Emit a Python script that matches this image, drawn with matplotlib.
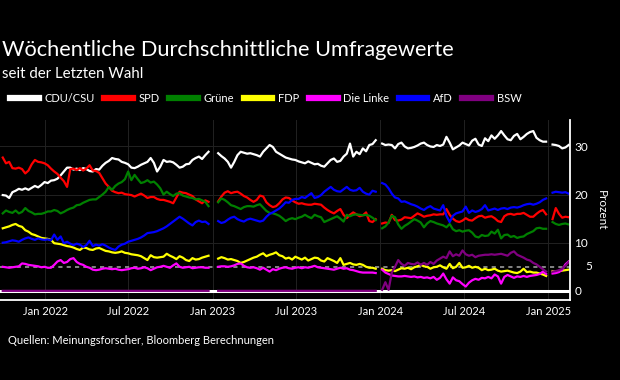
import numpy as np
import pandas as pd
import matplotlib
matplotlib.use("Agg")
import matplotlib.pyplot as plt
import matplotlib.dates as mdates
import matplotlib.transforms as mtransforms
from matplotlib.lines import Line2D

plt.rcParams['font.family'] = ['Lato', 'DejaVu Sans']

# weekly poll averages (Fridays), with holiday gaps between the segments
dates = pd.date_range('2021-10-01', '2025-02-14', freq='7D')
gaps = [2, 1, 1]

cdu_1 = [19.9, 19.8, 19.3, 20.5, 20.8, 21.2, 21.0, 21.3, 21.0, 21.4,
         21.8, 21.5, 22.0, 22.6, 22.4, 22.9, 23.0, 23.3, 24.0, 24.8,
         25.6, 25.6, 25.2, 25.4, 25.1, 25.5, 25.3, 24.9, 24.8, 25.3,
         25.2, 26.0, 26.6, 27.0, 27.6, 27.4, 27.3, 26.8, 26.6, 26.3,
         25.6, 25.5, 25.8, 26.2, 26.5, 26.8, 27.6, 26.6, 24.8, 25.8,
         27.2, 26.8, 26.9, 26.7, 26.2, 25.6, 25.8, 26.3, 26.4, 27.2,
         27.6, 27.9, 27.4, 28.2, 28.9]
cdu_2 = [28.6, 28.0, 27.5, 26.8, 25.6, 26.8, 28.2, 28.9, 28.7, 28.5,
         28.6, 28.4, 28.2, 27.9, 28.9, 29.6, 30.3, 29.9, 28.9, 28.5,
         28.1, 27.7, 27.5, 27.3, 27.2, 26.9, 26.7, 26.5, 26.9, 26.6,
         26.3, 26.4, 26.0, 25.8, 26.5, 27.2, 27.5, 26.8, 27.0, 27.9,
         28.5, 30.6, 27.9, 28.9, 28.4, 29.6, 29.0, 30.3, 30.5, 31.3]
cdu_3 = [30.6, 30.3, 30.4, 30.3, 29.6, 30.5, 30.8, 30.0, 29.6, 29.7,
         29.9, 30.2, 30.6, 30.8, 30.3, 30.0, 29.9, 30.3, 30.1, 30.4,
         32.0, 30.8, 29.4, 29.8, 30.2, 30.8, 30.5, 30.2, 31.2, 31.6,
         30.4, 30.1, 31.7, 31.1, 32.3, 31.6, 32.3, 33.2, 32.3, 31.5,
         31.3, 32.2, 32.6, 31.5, 32.0, 32.6, 33.0, 33.2, 31.8, 31.3,
         31.0, 31.0]
cdu_4 = [30.4, 30.3, 30.1, 29.6, 29.8, 30.3]

spd_1 = [27.7, 26.5, 26.8, 25.5, 25.4, 25.6, 25.3, 24.4, 25.0, 26.3,
         27.2, 26.8, 26.7, 26.5, 26.1, 25.4, 24.8, 24.3, 23.5, 22.8,
         21.6, 25.3, 25.4, 25.1, 25.5, 25.0, 25.4, 26.1, 25.0, 24.9,
         24.5, 23.4, 22.3, 21.6, 20.8, 20.5, 20.3, 20.4, 20.1, 20.0,
         19.9, 19.6, 19.9, 20.2, 19.8, 19.3, 19.5, 19.5, 19.1, 18.9,
         18.9, 18.7, 18.5, 18.2, 19.4, 20.6, 20.4, 20.3, 20.0, 19.7,
         19.0, 18.6, 18.2, 18.8, 18.5]
spd_2 = [18.6, 19.6, 20.4, 20.7, 20.3, 20.5, 20.6, 20.2, 19.7, 19.4,
         18.9, 18.5, 18.9, 19.8, 19.6, 18.4, 17.8, 17.4, 17.6, 18.2,
         19.0, 19.4, 19.3, 18.8, 18.4, 18.1, 18.2, 18.0, 17.9, 17.9,
         18.1, 18.0, 17.9, 17.3, 16.8, 16.4, 16.1, 16.6, 17.0, 15.8,
         15.1, 15.8, 16.3, 15.9, 15.5, 15.7, 16.3, 14.5, 14.3, 14.9]
spd_3 = [14.0, 14.2, 14.1, 15.8, 14.7, 14.6, 14.8, 15.3, 15.2, 15.1,
         15.6, 16.1, 15.8, 15.4, 15.6, 15.7, 15.9, 15.8, 15.9, 15.9,
         17.0, 15.8, 15.0, 14.5, 14.3, 14.6, 15.1, 14.7, 14.6, 15.1,
         15.5, 15.6, 15.2, 15.4, 15.5, 15.1, 14.5, 14.3, 15.5, 15.9,
         16.0, 15.8, 16.0, 16.0, 16.2, 15.8, 15.4, 15.4, 16.0, 16.5,
         16.8, 15.9]
spd_4 = [14.9, 17.2, 16.0, 15.2, 15.4, 15.3]

gruene_1 = [16.1, 16.7, 16.4, 16.2, 16.7, 16.1, 16.4, 17.2, 16.6, 16.3,
            15.9, 16.0, 16.0, 16.2, 16.5, 16.5, 16.8, 16.6, 16.1, 16.4,
            16.8, 17.1, 17.3, 17.8, 17.9, 18.3, 18.6, 18.9, 19.0, 19.0,
            19.5, 20.0, 20.6, 21.6, 21.0, 21.8, 22.3, 22.6, 23.2, 24.8,
            23.0, 24.1, 23.2, 22.4, 22.6, 23.0, 22.5, 22.7, 22.1, 21.3,
            20.0, 20.6, 20.1, 19.7, 20.2, 20.3, 19.8, 19.6, 19.4, 19.3,
            19.0, 19.1, 18.8, 18.5, 17.6]
gruene_2 = [18.4, 19.2, 18.9, 18.4, 17.8, 17.6, 17.3, 17.0, 17.4, 17.6,
            17.6, 17.5, 17.8, 18.0, 17.3, 16.6, 16.2, 16.1, 15.9, 15.6,
            15.1, 14.5, 14.9, 15.1, 14.9, 15.2, 15.4, 15.8, 15.4, 15.1,
            15.8, 15.5, 15.3, 14.3, 14.6, 14.9, 15.2, 15.5, 15.0, 14.4,
            15.8, 15.5, 15.8, 15.9, 15.8, 15.7, 15.8, 15.6, 15.2, 14.7]
gruene_3 = [13.0, 13.4, 14.2, 15.6, 15.3, 13.8, 12.9, 13.5, 13.9, 14.4,
            14.9, 14.6, 14.2, 13.2, 14.0, 14.5, 14.3, 14.0, 13.8, 13.6,
            13.2, 13.9, 12.8, 12.4, 12.6, 12.3, 12.5, 12.6, 12.1, 11.3,
            11.1, 11.6, 11.4, 11.5, 12.3, 11.9, 12.7, 10.9, 11.6, 11.7,
            11.2, 11.4, 11.0, 11.2, 11.3, 11.8, 12.1, 12.4, 13.0, 13.1,
            12.9, 12.9]
gruene_4 = [14.3, 13.9, 13.7, 13.9, 14.0, 13.8]

fdp_1 = [13.0, 13.2, 13.4, 13.7, 13.9, 13.5, 13.3, 12.6, 12.3, 11.8,
         11.6, 11.3, 11.0, 10.9, 10.8, 10.6, 9.9, 9.8, 9.7, 9.5,
         9.3, 9.2, 9.0, 8.7, 8.5, 9.0, 8.9, 8.6, 8.5, 8.8,
         8.9, 8.6, 8.3, 8.2, 8.0, 7.9, 8.0, 8.2, 7.9, 7.8,
         7.6, 7.5, 7.4, 7.2, 6.8, 6.4, 7.4, 7.0, 6.9, 7.0,
         7.1, 7.7, 7.3, 7.0, 6.6, 7.2, 6.9, 6.4, 6.2, 6.8,
         6.5, 6.6, 6.9, 7.1, 7.3]
fdp_2 = [6.7, 7.0, 6.8, 6.5, 6.6, 6.4, 6.2, 5.8, 6.0, 6.3,
         6.6, 6.9, 7.1, 7.5, 7.8, 7.2, 7.5, 7.7, 8.0, 7.4,
         7.2, 6.7, 6.9, 6.5, 7.1, 6.8, 6.5, 6.9, 6.3, 6.6,
         6.9, 6.8, 6.3, 6.1, 6.8, 6.5, 6.2, 5.8, 6.8, 5.4,
         5.6, 5.8, 5.5, 5.4, 5.6, 5.4, 5.0, 4.8, 4.8, 4.6]
fdp_3 = [4.6, 4.3, 4.2, 4.3, 4.1, 4.4, 4.7, 4.6, 4.8, 4.5,
         4.9, 5.1, 5.4, 5.1, 5.0, 4.6, 4.9, 5.0, 5.3, 4.9,
         4.6, 5.6, 4.7, 5.0, 5.8, 4.8, 4.9, 5.2, 4.8, 5.0,
         4.8, 4.3, 4.6, 4.3, 4.4, 4.6, 4.2, 4.0, 4.1, 4.2,
         4.0, 3.8, 3.7, 4.0, 4.6, 3.9, 4.0, 3.8, 3.8, 3.6,
         3.4, 3.1]
fdp_4 = [4.1, 4.0, 4.1, 4.2, 4.3, 4.4]

linke_1 = [5.0, 4.9, 4.8, 4.9, 5.0, 5.1, 5.7, 5.6, 5.4, 5.3,
           5.2, 5.1, 4.9, 5.0, 4.8, 4.8, 5.4, 6.1, 6.4, 5.8,
           6.0, 6.6, 6.8, 6.0, 5.6, 5.4, 5.0, 4.8, 4.4, 4.3,
           4.4, 4.6, 4.7, 4.6, 4.5, 4.6, 4.4, 4.3, 4.4, 4.5,
           4.7, 4.8, 4.6, 4.7, 4.9, 4.7, 4.3, 4.6, 4.9, 5.0,
           5.2, 5.0, 4.8, 5.3, 5.7, 5.0, 4.8, 4.9, 5.0, 4.7,
           4.8, 4.9, 4.9, 4.8, 4.8]
linke_2 = [5.0, 5.1, 5.1, 5.0, 5.1, 5.3, 5.6, 5.7, 5.2, 4.9,
           4.8, 4.9, 4.7, 4.4, 4.8, 4.4, 4.0, 4.5, 4.3, 4.6,
           4.8, 4.9, 4.7, 4.6, 4.8, 4.9, 4.7, 4.9, 4.8, 5.0,
           5.2, 4.9, 4.8, 4.7, 4.6, 4.5, 4.4, 4.6, 4.8, 4.6,
           4.7, 4.4, 4.3, 4.1, 3.9, 3.8, 3.8, 3.8, 3.8, 3.7]
linke_3 = [4.4, 3.8, 3.5, 3.2, 3.1, 3.0, 3.0, 3.1, 3.0, 2.9,
           3.0, 2.8, 2.9, 2.7, 2.8, 2.6, 2.9, 2.3, 2.7, 3.6,
           2.4, 1.5, 2.8, 2.2, 2.0, 1.4, 0.9, 1.7, 2.2, 2.5,
           2.3, 2.7, 2.6, 2.9, 2.6, 3.4, 3.0, 1.5, 2.9, 3.3,
           3.0, 2.7, 3.0, 2.9, 3.1, 2.9, 3.1, 3.2, 3.3, 3.5,
           4.0, 3.5]
linke_4 = [3.6, 3.7, 3.9, 4.4, 5.5, 6.1]

afd_1 = [10.0, 10.1, 10.3, 10.5, 10.4, 10.2, 10.6, 10.9, 11.1, 10.8,
         10.6, 10.9, 10.7, 10.6, 10.7, 10.5, 11.7, 10.6, 11.3, 9.9,
         10.2, 9.8, 9.5, 9.8, 9.6, 9.1, 9.5, 10.4, 9.3, 9.6,
         9.4, 9.7, 9.4, 9.0, 8.7, 8.5, 9.2, 9.6, 9.8, 10.2,
         10.4, 10.6, 10.8, 11.1, 11.5, 12.0, 12.1, 12.2, 12.4, 12.7,
         13.0, 13.4, 13.9, 14.4, 14.9, 15.4, 15.0, 14.5, 14.0, 13.6,
         14.3, 14.6, 14.3, 14.4, 13.9]
afd_2 = [14.5, 14.1, 14.3, 14.8, 15.2, 15.4, 14.9, 14.6, 14.4, 14.8,
         15.0, 14.8, 14.6, 14.4, 14.6, 15.4, 16.0, 16.3, 16.7, 17.1,
         17.7, 18.4, 18.3, 18.9, 19.1, 19.1, 19.5, 19.3, 19.8, 20.3,
         19.3, 19.5, 19.9, 20.6, 21.1, 21.6, 21.0, 20.7, 20.6, 21.1,
         21.6, 21.0, 20.8, 20.9, 21.4, 20.6, 20.2, 20.0, 20.8, 20.6]
afd_3 = [22.4, 22.1, 21.3, 20.2, 19.4, 19.2, 18.5, 18.6, 18.3, 18.0,
         17.8, 17.5, 17.1, 16.8, 17.3, 17.6, 17.1, 16.9, 16.7, 17.8,
         15.6, 14.3, 15.6, 16.1, 16.3, 16.5, 17.5, 16.2, 16.7, 16.4,
         16.6, 17.0, 17.8, 16.7, 16.9, 17.1, 16.8, 17.1, 17.2, 17.0,
         17.3, 17.4, 17.3, 17.5, 17.8, 18.0, 18.1, 17.9, 18.1, 18.4,
         18.9, 19.2]
afd_4 = [20.4, 20.6, 20.5, 20.4, 20.5, 20.2]

# BSW did not exist before 2024 -> 0
bsw_1 = [0, 0, 0, 0, 0, 0, 0, 0, 0, 0,
         0, 0, 0, 0, 0, 0, 0, 0, 0, 0,
         0, 0, 0, 0, 0, 0, 0, 0, 0, 0,
         0, 0, 0, 0, 0, 0, 0, 0, 0, 0,
         0, 0, 0, 0, 0, 0, 0, 0, 0, 0,
         0, 0, 0, 0, 0, 0, 0, 0, 0, 0,
         0, 0, 0, 0, 0]
bsw_2 = [0, 0, 0, 0, 0, 0, 0, 0, 0, 0,
         0, 0, 0, 0, 0, 0, 0, 0, 0, 0,
         0, 0, 0, 0, 0, 0, 0, 0, 0, 0,
         0, 0, 0, 0, 0, 0, 0, 0, 0, 0,
         0, 0, 0, 0, 0, 0, 0, 0, 0, 0]
bsw_3 = [0.2, 1.8, 0.2, 3.8, 5.0, 6.4, 5.6, 5.2, 5.8, 5.6,
         5.5, 5.9, 5.4, 5.8, 5.4, 6.0, 5.6, 6.3, 6.7, 7.1,
         6.8, 8.2, 7.2, 7.6, 7.3, 8.4, 7.6, 7.3, 7.5, 7.0,
         7.3, 7.4, 7.5, 7.5, 7.6, 7.5, 7.6, 7.7, 7.5, 7.3,
         7.9, 8.2, 7.5, 7.2, 6.9, 6.5, 6.3, 5.8, 5.5, 5.0,
         4.5, 4.0]
bsw_4 = [4.0, 4.1, 4.3, 4.6, 5.2, 6.0]

parties = ['CDU/CSU', 'SPD', 'Grüne', 'FDP', 'Die Linke', 'AfD', 'BSW']
colors = ['#ffffff', '#ff0000', '#008000', '#ffff00', '#ff00ff', '#0000ff', '#800080']
segments = [
    (cdu_1, cdu_2, cdu_3, cdu_4),
    (spd_1, spd_2, spd_3, spd_4),
    (gruene_1, gruene_2, gruene_3, gruene_4),
    (fdp_1, fdp_2, fdp_3, fdp_4),
    (linke_1, linke_2, linke_3, linke_4),
    (afd_1, afd_2, afd_3, afd_4),
    (bsw_1, bsw_2, bsw_3, bsw_4),
]


def join_segments(segs):
    vals = list(segs[0])
    for g, s in zip(gaps, segs[1:]):
        vals += [None] * g + list(s)
    return np.array(vals, dtype=float)


fig = plt.figure(figsize=(6.2, 3.8), dpi=100, facecolor='black')
ax = fig.add_axes([0.0, 1 - 300 / 380, 570 / 620, 180 / 380])
ax.set_facecolor('black')

ax.axhline(0, color='white', lw=2.2, zorder=1.6)
ax.axhline(5, color='#9a9a9a', lw=1.2, ls=(0, (2.5, 2.5)), zorder=1.5)

for name, col, segs in zip(parties, colors, segments):
    ax.plot(dates, join_segments(segs), color=col, lw=1.6, zorder=2)

ax.set_xlim(pd.Timestamp('2021-09-25'), pd.Timestamp('2025-02-17'))
ax.set_ylim(-1.9, 35.5)

ax.xaxis.set_major_locator(mdates.MonthLocator(bymonth=[1, 7]))
ax.xaxis.set_major_formatter(mdates.DateFormatter('%b %Y'))
ax.yaxis.tick_right()
ax.set_yticks([0, 10, 20, 30])
ax.tick_params(axis='both', colors='white', length=0, labelsize=8.5)
ax.tick_params(axis='x', pad=4, labelsize=8)
ax.tick_params(axis='y', pad=3)
ax.grid(True, color='#222222', lw=0.7)
ax.set_axisbelow(True)

for side in ['top', 'left']:
    ax.spines[side].set_visible(False)
for side in ['right', 'bottom']:
    ax.spines[side].set_color('white')
    ax.spines[side].set_linewidth(1.3)

trans = mtransforms.blended_transform_factory(ax.transAxes, ax.transData)
ax.text(585 / 570, 5, '5', transform=trans, color='white', fontsize=8.5,
        ha='left', va='center')
ax.text(601 / 570, 0.5, 'Prozent', transform=ax.transAxes, color='white',
        fontsize=8.5, rotation=270, ha='center', va='center')

fig.text(0.003, 1 - 50 / 380, 'Wöchentliche Durchschnittliche Umfragewerte',
         color='white', fontsize=15.7, va='center', ha='left')
fig.text(0.003, 1 - 74 / 380, 'seit der Letzten Wahl', color='white',
         fontsize=10.8, va='center', ha='left')
fig.text(8 / 620, 1 - 341 / 380, 'Quellen: Meinungsforscher, Bloomberg Berechnungen',
         color='white', fontsize=8, va='center', ha='left')

handles = [Line2D([], [], color=c, lw=4.5) for c in colors]
fig.legend(handles, parties, loc='center left', bbox_to_anchor=(0.0, 1 - 98 / 380),
           ncol=7, frameon=False, fontsize=8, labelcolor='white',
           handlelength=2.6, handletextpad=0.5, columnspacing=0.85)

fig.savefig('out.png', dpi=100, facecolor='black')
